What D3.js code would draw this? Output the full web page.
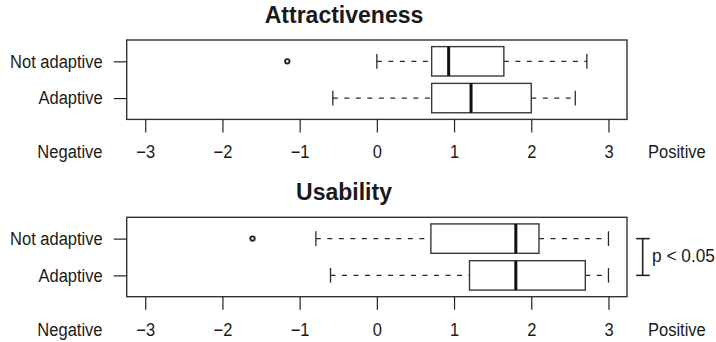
<!DOCTYPE html>
<html>
<head>
<meta charset="utf-8">
<script src="https://cdn.jsdelivr.net/npm/d3@7"></script>
<style>
  html, body { margin: 0; padding: 0; background: #fff; }
  svg { display: block; }
  text { font-family: "Liberation Sans", Arial, Helvetica, sans-serif; fill: #1a1a1a; }
</style>
</head>
<body>
<svg id="chart" width="716" height="342"></svg>
<script>
// ---- data ----
const panelTitles = ["Attractiveness", "Usability"];
const categories = ["Not adaptive", "Adaptive"];
// [lower whisker, Q1, median, Q3, upper whisker] per category
const attractivenessStats = [
  [0.00, 0.71, 0.93, 1.645, 2.72],
  [-0.57, 0.71, 1.22, 2.00, 2.57]
];
const attractivenessOutliers = [[-1.16], []];
const usabilityStats = [
  [-0.79, 0.70, 1.80, 2.10, 3.00],
  [-0.60, 1.20, 1.80, 2.70, 3.00]
];
const usabilityOutliers = [[-1.61], []];
const tickValues = [-3, -2, -1, 0, 1, 2, 3];
const endLabels = ["Negative", "Positive"];
const significanceLabel = "p < 0.05";

// ---- layout ----
const svg = d3.select("#chart");
const left = 126.7, right = 627;
const panelTop = [40, 217.3];
const panelH = 79.4;
const x = d3.scaleLinear().domain([-3.24, 3.24]).range([left, right]);
const fontSize = 18;       // rendered size (taller glyphs)
const widthFactor = 16.5 / 18; // horizontal condensing to match reference widths

function condense(sel) {
  sel.each(function () {
    const len = this.getComputedTextLength();
    d3.select(this).attr("textLength", len * widthFactor).attr("lengthAdjust", "spacingAndGlyphs");
  });
}

const panels = [
  { title: panelTitles[0], stats: attractivenessStats, outliers: attractivenessOutliers, sig: false },
  { title: panelTitles[1], stats: usabilityStats, outliers: usabilityOutliers, sig: true }
];

panels.forEach((p, pi) => {
  const top = panelTop[pi];
  const bottom = top + panelH;
  const pos = d => categories.length - categories.indexOf(d);
  const y = d3.scaleLinear().domain([0.42, 2.58]).range([bottom, top]);
  const half = Math.abs(y(0.4) - y(0));
  const capHalf = half / 2;

  const g = svg.append("g");

  // title
  g.append("text")
    .attr("x", 344).attr("y", top - 17.5)
    .attr("text-anchor", "middle")
    .style("font-size", "23px").style("font-weight", "bold")
    .text(p.title);

  categories.forEach((cat, ci) => {
    const s = p.stats[ci];
    const cy = y(pos(cat));
    const bg = g.append("g");
    bg.append("line").attr("x1", x(s[0])).attr("x2", x(s[1])).attr("y1", cy).attr("y2", cy)
      .attr("stroke", "#2a2a2a").attr("stroke-width", 1.2).attr("stroke-dasharray", "5,6.5");
    bg.append("line").attr("x1", x(s[3])).attr("x2", x(s[4])).attr("y1", cy).attr("y2", cy)
      .attr("stroke", "#2a2a2a").attr("stroke-width", 1.2).attr("stroke-dasharray", "5,6.5");
    [s[0], s[4]].forEach(v => {
      bg.append("line").attr("x1", x(v)).attr("x2", x(v)).attr("y1", cy - capHalf).attr("y2", cy + capHalf)
        .attr("stroke", "#2a2a2a").attr("stroke-width", 1.3);
    });
    bg.append("rect")
      .attr("x", x(s[1])).attr("y", cy - half)
      .attr("width", x(s[3]) - x(s[1])).attr("height", 2 * half)
      .attr("fill", "#fff").attr("stroke", "#3a3a3a").attr("stroke-width", 1.4);
    bg.append("line").attr("x1", x(s[2])).attr("x2", x(s[2])).attr("y1", cy - half).attr("y2", cy + half)
      .attr("stroke", "#111").attr("stroke-width", 3);
    p.outliers[ci].forEach(v => {
      bg.append("circle").attr("cx", x(v)).attr("cy", cy).attr("r", 2.2)
        .attr("fill", "none").attr("stroke", "#222").attr("stroke-width", 1.9);
    });
  });

  // frame
  g.append("rect").attr("x", left).attr("y", top).attr("width", right - left).attr("height", panelH)
    .attr("fill", "none").attr("stroke", "#333").attr("stroke-width", 1.4);

  // x axis
  const xa = g.append("g").attr("transform", `translate(0,${bottom})`)
    .call(d3.axisBottom(x).tickValues(tickValues).tickFormat(d3.format("d")).tickSize(13).tickPadding(13.3));
  xa.select(".domain").remove();
  xa.selectAll(".tick line").attr("stroke", "#222").attr("stroke-width", 1.2);
  xa.selectAll(".tick text").style("font-size", fontSize + "px").attr("fill", "#1a1a1a").call(condense);

  // y axis
  const yBand = d3.scaleOrdinal().domain(categories).range(categories.map(c => y(pos(c))));
  const ya = g.append("g").attr("transform", `translate(${left},0)`)
    .call(d3.axisLeft(yBand).tickSize(13).tickPadding(11));
  ya.select(".domain").remove();
  ya.selectAll(".tick line").attr("stroke", "#222").attr("stroke-width", 1.2);
  ya.selectAll(".tick text").style("font-size", fontSize + "px").attr("fill", "#1a1a1a").call(condense);

  // end labels
  const lblY = bottom + 39;
  g.append("text").attr("x", 102.5).attr("y", lblY).attr("text-anchor", "end")
    .style("font-size", fontSize + "px").text(endLabels[0]).call(condense);
  g.append("text").attr("x", 648).attr("y", lblY).attr("text-anchor", "start")
    .style("font-size", fontSize + "px").text(endLabels[1]).call(condense);

  if (p.sig) {
    const y1 = y(pos(categories[0])), y2 = y(pos(categories[1]));
    const bx = 642.7;
    const bk = g.append("g").attr("stroke", "#222").attr("stroke-width", 1.6);
    bk.append("line").attr("x1", bx).attr("x2", bx).attr("y1", y1).attr("y2", y2);
    bk.append("line").attr("x1", bx - 6.5).attr("x2", bx + 7).attr("y1", y1).attr("y2", y1);
    bk.append("line").attr("x1", bx - 6.5).attr("x2", bx + 7).attr("y1", y2).attr("y2", y2);
    g.append("text").attr("x", 652).attr("y", (y1 + y2) / 2 + 5)
      .style("font-size", "17.5px").text(significanceLabel)
      .each(function () {
        const len = this.getComputedTextLength();
        d3.select(this).attr("textLength", Math.min(len, 63)).attr("lengthAdjust", "spacingAndGlyphs");
      });
  }
});
</script>
</body>
</html>
